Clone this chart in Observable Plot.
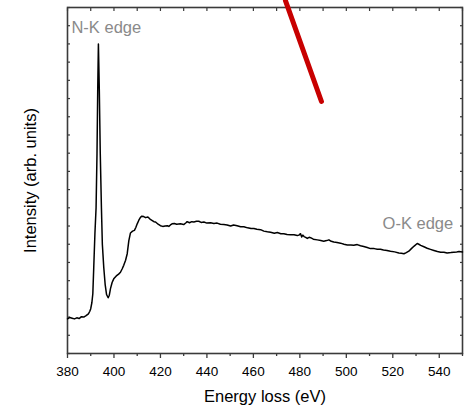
<!DOCTYPE html>
<html><head><meta charset="utf-8">
<script src="https://cdn.jsdelivr.net/npm/d3@7"></script>
<script src="https://cdn.jsdelivr.net/npm/@observablehq/plot@0.6"></script>
<style>body{margin:0;background:#fff;} svg{display:block;}</style>
</head><body><div id="chart"></div>
<script>
const energy = [380,381,382,383,384,385,386,387,388,389,389.6,390,390.5,390.9,391.3,391.8,392.3,392.7,393.0,393.3,393.7,394.1,394.6,395.0,395.6,396.2,396.8,397.5,398.0,398.5,399.2,399.9,401,402,402.8,403.5,404.2,405.0,405.7,406.4,407.1,408,408.8,409.4,410,410.7,411.4,412,412.8,413.6,414.6,415.5,416.5,417.2,417.9,419,420,421,422,423,423.6,424.3,425,426,427,428.6,430,431,431.5,432.5,433.5,434.4,435.5,436.5,437.5,438.7,440,441.6,443,444.4,445.8,447.3,448.7,450.2,451.5,453,454.5,455.9,457.5,459,460.2,461.5,463.1,464.5,466,467.4,469,470.3,471.8,473.1,474.5,476,477.5,478.9,479.6,480.3,480.8,481.3,481.8,482.5,483.2,484,484.6,485.8,487.5,489,490.3,491.5,492.5,493.5,494.6,496,497.5,499,500.4,502,503.2,504.7,506.1,507.5,509,510.4,512,513.3,514.7,516,517.5,519,520.8,522.6,523.7,524.8,525.8,526.9,528,529.2,530.5,531.2,532,533.4,534.8,536.2,537.7,539.2,540.6,542,543.4,545,546.3,547.5,548.5,550];
const intensity = [9.5,9.9,9.7,9.5,9.8,9.6,10.1,10.0,10.4,10.9,11.6,12.3,14.0,16.4,23.7,32.9,40,55,72,85,72,55,40,30,23.7,19.0,16.2,15.3,16.0,17.8,19.5,20.5,21.3,21.8,22.3,23.2,24.2,25.6,27.4,31.0,33.1,33.6,33.8,34.6,35.6,36.6,37.4,37.7,37.6,37.3,37.5,36.9,36.5,36.2,36.1,35.5,35.1,34.9,35.0,35.1,34.9,35.3,35.6,35.7,35.5,35.6,35.4,35.9,36.2,35.9,36.2,36.1,36.3,36.3,36.0,36.1,35.8,35.9,35.7,35.8,35.5,35.4,35.3,35.0,35.3,35.1,34.8,34.8,34.5,34.3,34.3,34.1,34.0,33.6,33.4,33.3,33.0,33.2,32.9,32.9,32.7,32.6,32.6,32.4,32.5,32.9,32.0,32.5,32.1,31.9,31.6,31.9,31.8,31.4,31.2,31.0,30.8,31.0,31.2,30.8,30.6,30.5,30.3,30.0,29.8,29.8,29.7,29.9,29.6,29.4,29.1,28.8,28.8,28.6,28.6,28.4,28.3,28.1,27.9,27.6,27.5,27.4,27.7,28.1,28.8,29.5,30.2,30.0,29.7,29.3,28.9,28.6,28.3,28.0,27.8,27.8,27.6,27.7,27.8,27.9,28.0,27.9];

const xMajorTicks = [380,400,420,440,460,480,500,520,540];
const xMinorTicks = [390,410,430,450,470,490,510,530,550];
const xTopTicks = [380,390,400,410,420,430,440,450,460,470,480,490,500,510,520,530,540,550];
const yTicks = [0,5,10,15,20,25,30,35,40,45,50,55,60,65,70,75,80,85,90,95];
const xLabel = "Energy loss (eV)";
const yLabel = "Intensity (arb. units)";
const nkLabel = {t: "N-K edge", x: 381.7, y: 91.2};
const okLabel = {t: "O-K edge", x: 546.0, y: 35.7};
const markerX = [473.8, 489.3];
const markerY = [96.9, 69.2];

const rows = energy.map((e, i) => ({e, v: intensity[i]}));
const marker = markerX.map((x, i) => ({x, y: markerY[i]}));

const axisColor = "#3a3a3a";
const chart = Plot.plot({
  width: 464,
  height: 406,
  marginLeft: 67,
  marginRight: 2,
  marginTop: 7,
  marginBottom: 53,
  style: {fontFamily: "'Liberation Sans', Arial, sans-serif", fontSize: "13px", background: "#fff", color: "#000"},
  x: {domain: [380, 550]},
  y: {domain: [0, 95]},
  marks: [
    Plot.axisX({ticks: xMajorTicks, tickSize: 5, tickPadding: 8, fontSize: 13.5, label: null, stroke: axisColor, strokeWidth: 1.3, fill: "#000"}),
    Plot.axisX({ticks: xMinorTicks, tickSize: 3, tickFormat: () => "", label: null, stroke: axisColor, strokeWidth: 1.3}),
    Plot.axisX({anchor: "top", ticks: xTopTicks, tickSize: 3, dy: 3, tickFormat: () => "", label: null, stroke: axisColor, strokeWidth: 1.2}),
    Plot.axisY({anchor: "left", ticks: yTicks, tickSize: 3, dx: 3, tickFormat: () => "", label: null, stroke: axisColor, strokeWidth: 1.2}),
    Plot.axisY({anchor: "right", ticks: yTicks, tickSize: 3, dx: -3, tickFormat: () => "", label: null, stroke: axisColor, strokeWidth: 1.2}),
    Plot.frame({stroke: axisColor, strokeWidth: 1.6}),
    Plot.line(rows, {x: "e", y: "v", stroke: "#000", strokeWidth: 1.5, curve: "linear"}),
    Plot.line(marker, {x: "x", y: "y", stroke: "#c80000", strokeWidth: 5}),
    Plot.text([nkLabel], {x: "x", y: "y", text: "t", textAnchor: "start", lineAnchor: "top", fill: "#8a8a8a", fontSize: 16.5}),
    Plot.text([okLabel], {x: "x", y: "y", text: "t", textAnchor: "end", lineAnchor: "middle", fill: "#8a8a8a", fontSize: 16.5}),
    Plot.text([xLabel], {frameAnchor: "bottom", dy: 43, lineAnchor: "middle", fontSize: 16.5, fill: "#000"}),
    Plot.text([yLabel], {frameAnchor: "left", dx: -37, rotate: -90, textAnchor: "middle", lineAnchor: "middle", fontSize: 16.5, fill: "#000"})
  ]
});
document.getElementById("chart").appendChild(chart);
</script>
</body></html>
